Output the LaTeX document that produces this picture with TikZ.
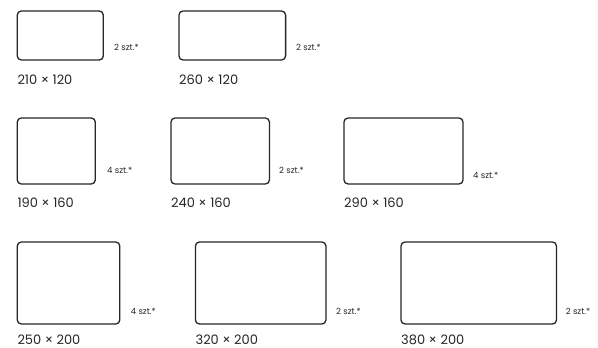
\documentclass[tikz,border=0pt]{standalone}
\usepackage{fontspec}
\setmainfont{Poppins}
\begin{document}
\begin{tikzpicture}[x=1pt,y=-1pt,
  box/.style={draw=black!85,line width=1.3pt,rounded corners=4pt,inner sep=0pt,outer sep=0pt,anchor=north west},
  dimlabel/.style={anchor=base west,inner sep=0pt,text depth=0pt,font=\fontsize{13}{15}\selectfont,text=black!85},
  cntlabel/.style={anchor=base west,inner sep=0pt,text depth=0pt,font=\fontsize{8.5}{10}\selectfont,text=black!85}]
\useasboundingbox (0,0) rectangle (598,348);
% row 1
\node[box,minimum width=86pt,minimum height=49pt] (a1) at (17.3,11) {};
\node[box,minimum width=106.6pt,minimum height=49pt] (a2) at (179,11) {};
\node[cntlabel] (ca1) at (114,50) {2 szt.*};
\node[cntlabel] (ca2) at (296,50) {2 szt.*};
\node[dimlabel] (da1) at (17.3,84) {210 × 120};
\node[dimlabel] (da2) at (179,84) {260 × 120};
% row 2
\node[box,minimum width=78pt,minimum height=66pt] (b1) at (17.3,118) {};
\node[box,minimum width=98.4pt,minimum height=66pt] (b2) at (171,118) {};
\node[box,minimum width=119pt,minimum height=66pt] (b3) at (344,118) {};
\node[cntlabel] (cb1) at (107,173.5) {4 szt.*};
\node[cntlabel] (cb2) at (279,173.5) {2 szt.*};
\node[cntlabel] (cb3) at (473,178.5) {4 szt.*};
\node[dimlabel] (db1) at (17.3,207) {190 × 160};
\node[dimlabel] (db2) at (171,207) {240 × 160};
\node[dimlabel] (db3) at (344,207) {290 × 160};
% row 3
\node[box,minimum width=102.5pt,minimum height=82pt] (c1) at (17.3,242) {};
\node[box,minimum width=130.5pt,minimum height=82pt] (c2) at (195.4,242) {};
\node[box,minimum width=155.5pt,minimum height=82pt] (c3) at (401,242) {};
\node[cntlabel] (cc1) at (130.7,314.5) {4 szt.*};
\node[cntlabel] (cc2) at (336,314.5) {2 szt.*};
\node[cntlabel] (cc3) at (565.7,314.5) {2 szt.*};
\node[dimlabel] (dc1) at (17.3,344.5) {250 × 200};
\node[dimlabel] (dc2) at (195.4,344.5) {320 × 200};
\node[dimlabel] (dc3) at (401,344.5) {380 × 200};
\end{tikzpicture}
\end{document}
